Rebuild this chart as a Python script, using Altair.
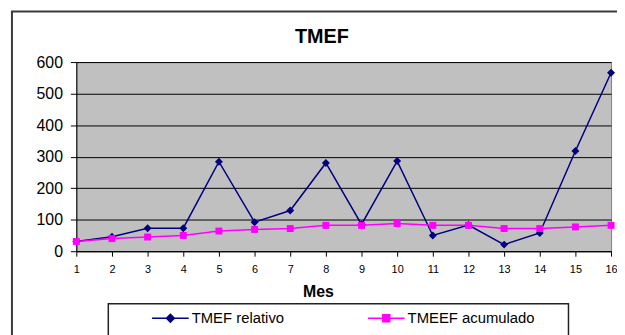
import altair as alt
import pandas as pd

months = list(range(1, 17))
tmef_relativo = [31, 46, 73, 73, 284, 92, 129, 280, 85, 286, 50, 83, 21, 58, 318, 566]
tmeef_acumulado = [31, 40, 45, 50, 64, 69, 72, 82, 82, 88, 82, 82, 72, 72, 77, 82]
series_names = ["TMEF relativo", "TMEEF acumulado"]
series_colors = ["#000080", "#FF00FF"]
y_ticks = [0, 100, 200, 300, 400, 500, 600]

df = pd.DataFrame({
    "Mes": months * 2,
    "valor": tmef_relativo + tmeef_acumulado,
    "serie": [series_names[0]] * len(months) + [series_names[1]] * len(months),
})

FONT = "Liberation Sans"

x_enc = alt.X(
    "Mes:Q",
    scale=alt.Scale(domain=[1, 16], nice=False, zero=False),
    axis=alt.Axis(
        values=months, format="d", title="Mes", titleFont=FONT, titleFontSize=16,
        titleFontWeight="bold", titleColor="#000", titleX=244, titleY=41,
        titleBaseline="middle", labelFont=FONT, labelFontSize=11, labelColor="#000",
        labelPadding=8, tickSize=5, tickColor="#000", domainColor="#000",
        grid=False, labelFlush=False,
    ),
)
y_enc = alt.Y(
    "valor:Q",
    scale=alt.Scale(domain=[0, 600], nice=False),
    axis=alt.Axis(
        values=y_ticks, title=None, labelFont=FONT, labelFontSize=16, labelColor="#000",
        labelPadding=8, tickSize=6, tickColor="#000", domainColor="#000",
        grid=True, gridColor="#000", gridWidth=1, gridOpacity=1,
    ),
)

p_rel = "M-3.7,0L3.7,0M-0.8,0L0,-0.8L0.8,0L0,0.8Z"
p_acu = "M-3.7,0L3.7,0M-0.7,-0.7L0.7,-0.7L0.7,0.7L-0.7,0.7Z"

legend = alt.Legend(
    orient="none", legendX=32, legendY=244, direction="horizontal", title=None,
    padding=7,
    symbolSize=100, symbolOffset=48.5, labelOffset=14, columnPadding=47,
    symbolStrokeWidth=1.5,
    symbolType=alt.ExprRef(f"datum.value == 'TMEF relativo' ? '{p_rel}' : '{p_acu}'"),
    symbolFillColor=alt.ExprRef("datum.value == 'TMEF relativo' ? '#000080' : '#FF00FF'"),
    labelFont=FONT, labelFontSize=15, labelColor="#000", labelLimit=400,
)

# decorative outer frame and legend box
frame = alt.Chart(alt.Data(values=[{"f": 1}])).mark_rect(
    filled=False, stroke="#3a3a3a", strokeWidth=2
).encode(
    x=alt.value(-65), x2=alt.value(580), y=alt.value(-51), y2=alt.value(330)
)
legend_box = alt.Chart(alt.Data(values=[{"f": 1}])).mark_rect(
    fill="white", stroke="#222", strokeWidth=1.5
).encode(
    x=alt.value(32.3), x2=alt.value(497), y=alt.value(244), y2=alt.value(300)
)

base = alt.Chart(df)

lines = base.mark_line(strokeWidth=1.5).encode(
    x=x_enc, y=y_enc,
    color=alt.Color("serie:N", scale=alt.Scale(domain=series_names, range=series_colors),
                    sort=series_names, legend=legend),
    order=alt.Order("Mes:Q"),
)

pts_rel = base.transform_filter(alt.datum.serie == series_names[0]).mark_point(
    shape="diamond", filled=True, size=64, opacity=1
).encode(x=x_enc, y=y_enc, color=alt.value(series_colors[0]))

pts_acu = base.transform_filter(alt.datum.serie == series_names[1]).mark_point(
    shape="square", filled=True, size=49, opacity=1
).encode(x=x_enc, y=y_enc, color=alt.value(series_colors[1]))

chart = alt.layer(frame, legend_box, lines, pts_rel, pts_acu).properties(
    width=540, height=191,
    background="white",
    padding={"left": 69, "top": 53, "right": 6, "bottom": 83},
    autosize=alt.AutoSizeParams(type="none"),
    title=alt.TitleParams("TMEF", font=FONT, fontSize=20, fontWeight="bold",
                          color="#000", anchor="middle", baseline="alphabetic",
                          dx=-22, dy=53.2, offset=0),
).configure_view(
    fill="#C0C0C0", stroke="#808080"
)

chart.save("out.html", embed_options={"renderer": "svg", "actions": False})
